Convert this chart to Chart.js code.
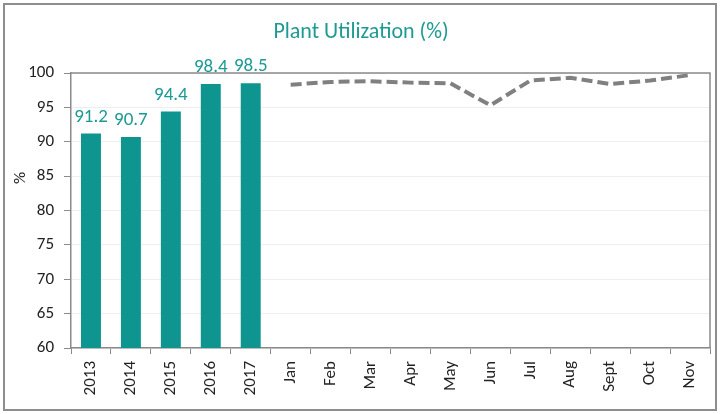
<!DOCTYPE html>
<html><head><meta charset="utf-8">
<script src="https://cdn.jsdelivr.net/npm/chart.js@4"></script>
<style>html,body{margin:0;padding:0;background:#fff}#wrap{width:720px;height:414px;position:relative}</style>
</head><body><div id="wrap"><canvas id="c" width="720" height="414"></canvas></div>
<script>
const categories = ['2013','2014','2015','2016','2017','Jan','Feb','Mar','Apr','May','Jun','Jul','Aug','Sept','Oct','Nov'];
const annualValues = [91.2, 90.7, 94.4, 98.4, 98.5, null, null, null, null, null, null, null, null, null, null, null];
const monthlyValues = [null, null, null, null, null, 98.3, 98.7, 98.8, 98.6, 98.5, 95.3, 98.9, 99.3, 98.4, 98.9, 99.7];
const yTicks = [60, 65, 70, 75, 80, 85, 90, 95, 100];
const titleText = 'Plant Utilization (%)';
const yAxisTitle = '%';
const FONT = 'Carlito, Lato, "Open Sans", sans-serif';
const TEAL = '#0f9590';

const decor = {
  id: 'decor',
  beforeDraw(chart) {
    const ctx = chart.ctx;
    ctx.save();
    ctx.fillStyle = '#fff';
    ctx.fillRect(0, 0, chart.width, chart.height);
    ctx.strokeStyle = '#8e8e8e';
    ctx.lineWidth = 2;
    ctx.strokeRect(4, 4, chart.width - 8, chart.height - 8);
    ctx.fillStyle = '#1d9a94';
    ctx.font = '22px ' + FONT;
    ctx.textAlign = 'center';
    ctx.textBaseline = 'middle';
    ctx.fillText(titleText, 361, 32);
    ctx.restore();
  },
  afterDraw(chart) {
    const a = chart.chartArea, ctx = chart.ctx;
    ctx.save();
    ctx.strokeStyle = '#8a8a8a';
    ctx.lineWidth = 1.5;
    ctx.beginPath();
    ctx.moveTo(a.left, a.top); ctx.lineTo(a.right, a.top); ctx.lineTo(a.right, a.bottom);
    ctx.stroke();
    // y axis title
    ctx.save();
    ctx.translate(21, 178);
    ctx.rotate(-Math.PI / 2);
    ctx.fillStyle = '#222';
    ctx.font = '17px ' + FONT;
    ctx.textAlign = 'center';
    ctx.textBaseline = 'middle';
    ctx.fillText(yAxisTitle, 0, 0);
    ctx.restore();
    const meta = chart.getDatasetMeta(0);
    ctx.fillStyle = '#1d9a94';
    ctx.font = '19px ' + FONT;
    ctx.textAlign = 'center';
    ctx.textBaseline = 'alphabetic';
    meta.data.forEach((el, i) => {
      const v = annualValues[i];
      if (v == null) return;
      ctx.fillText(v.toFixed(1), el.x, el.y - 12);
    });
    ctx.restore();
  }
};

new Chart(document.getElementById('c'), {
  data: {
    labels: categories,
    datasets: [
      { type: 'bar', data: annualValues, backgroundColor: TEAL, barPercentage: 0.5, categoryPercentage: 1.0, order: 2 },
      { type: 'line', data: monthlyValues, borderColor: '#808080', borderWidth: 4, borderDash: [11, 5], pointRadius: 0, fill: false, tension: 0, order: 1 }
    ]
  },
  options: {
    responsive: false,
    animation: false,
    devicePixelRatio: 1,
    layout: { padding: { top: 73, left: 10, right: 10, bottom: 6 } },
    plugins: { legend: { display: false }, title: { display: false }, tooltip: { enabled: false } },
    scales: {
      x: {
        offset: true,
        grid: { display: true, drawOnChartArea: false, drawTicks: true, tickLength: 6, tickColor: '#8a8a8a', offset: true },
        border: { color: '#8a8a8a', width: 1.5 },
        ticks: { minRotation: 90, maxRotation: 90, autoSkip: false, color: '#222', font: { family: FONT, size: 17 }, padding: 7 },
        afterFit(s) { s.height = 60; }
      },
      y: {
        min: 60, max: 100,
        afterBuildTicks(s) { s.ticks = yTicks.map(v => ({ value: v })); },
        grid: { color: '#eeeeee', lineWidth: 1, tickLength: 7, tickColor: '#8a8a8a', drawTicks: true },
        border: { color: '#8a8a8a', width: 1.5 },
        ticks: { color: '#222', font: { family: FONT, size: 17 }, padding: 10 },
        afterFit(s) { s.width = 61; }
      }
    }
  },
  plugins: [decor]
});
</script></body></html>
